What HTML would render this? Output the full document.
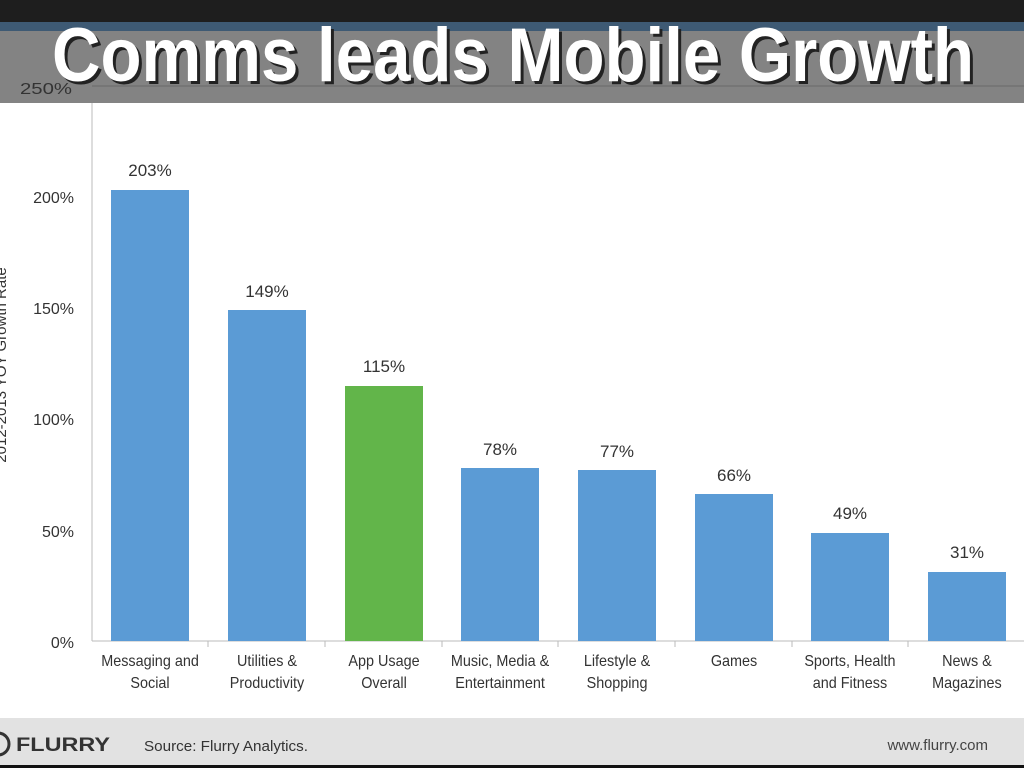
<!DOCTYPE html>
<html><head><meta charset="utf-8"><style>
html,body{margin:0;padding:0;background:#fff;}
svg{display:block;}
</style></head><body>
<svg width="1024" height="768" viewBox="0 0 1024 768" xmlns="http://www.w3.org/2000/svg" font-family="Liberation Sans, sans-serif">
<rect x="0" y="0" width="1024" height="768" fill="#fff"/>
<rect x="0" y="0" width="1024" height="24" fill="#1e1e1e"/>
<rect x="0" y="22" width="1024" height="10" fill="#3e5a74"/>
<rect x="0" y="31" width="1024" height="72" fill="#838383"/>
<line x1="92" y1="86" x2="1024" y2="86" stroke="#6a6a6a" stroke-width="1"/>
<text x="20" y="94" font-size="16" fill="#333" textLength="52" lengthAdjust="spacingAndGlyphs">250%</text>
<text x="52" y="81" font-size="76" font-weight="bold" fill="#222" textLength="922" lengthAdjust="spacingAndGlyphs" transform="translate(3,3)">Comms leads Mobile Growth</text>
<text x="52" y="81" font-size="76" font-weight="bold" fill="#fff" textLength="922" lengthAdjust="spacingAndGlyphs">Comms leads Mobile Growth</text>
<line x1="92" y1="103" x2="92" y2="641" stroke="#bbb"/>
<line x1="92" y1="641" x2="1024" y2="641" stroke="#bbb"/>
<g stroke="#bbb">
<line x1="208" y1="641" x2="208" y2="647"/><line x1="325" y1="641" x2="325" y2="647"/><line x1="442" y1="641" x2="442" y2="647"/><line x1="558" y1="641" x2="558" y2="647"/><line x1="675" y1="641" x2="675" y2="647"/><line x1="792" y1="641" x2="792" y2="647"/><line x1="908" y1="641" x2="908" y2="647"/>
</g>
<g font-size="16" fill="#333" text-anchor="end">
<text x="74" y="203">200%</text><text x="74" y="314">150%</text><text x="74" y="425">100%</text><text x="74" y="537">50%</text><text x="74" y="648">0%</text>
</g>
<text transform="translate(6,365) rotate(-90)" font-size="15" fill="#333" text-anchor="middle">2012-2013 YOY Growth Rate</text>
<g fill="#5b9bd5">
<rect x="111" y="190" width="78" height="451"/>
<rect x="228" y="310" width="78" height="331"/>
<rect x="461" y="468" width="78" height="173"/>
<rect x="578" y="470" width="78" height="171"/>
<rect x="695" y="494" width="78" height="147"/>
<rect x="811" y="533" width="78" height="108"/>
<rect x="928" y="572" width="78" height="69"/>
</g>
<rect x="345" y="386" width="78" height="255" fill="#62b54a"/>
<g font-size="17" fill="#333" text-anchor="middle">
<text x="150" y="176">203%</text><text x="267" y="297">149%</text><text x="384" y="372">115%</text><text x="500" y="455">78%</text><text x="617" y="457">77%</text><text x="734" y="481">66%</text><text x="850" y="519">49%</text><text x="967" y="558">31%</text>
</g>
<g font-size="16" fill="#333" text-anchor="middle" transform="scale(0.9,1)">
<text x="166.7" y="666">Messaging and</text><text x="166.7" y="688">Social</text>
<text x="296.7" y="666">Utilities &amp;</text><text x="296.7" y="688">Productivity</text>
<text x="426.7" y="666">App Usage</text><text x="426.7" y="688">Overall</text>
<text x="555.6" y="666">Music, Media &amp;</text><text x="555.6" y="688">Entertainment</text>
<text x="685.6" y="666">Lifestyle &amp;</text><text x="685.6" y="688">Shopping</text>
<text x="815.6" y="666">Games</text>
<text x="944.4" y="666">Sports, Health</text><text x="944.4" y="688">and Fitness</text>
<text x="1074.4" y="666">News &amp;</text><text x="1074.4" y="688">Magazines</text>
</g>
<rect x="0" y="718" width="1024" height="47" fill="#e2e2e2"/>
<rect x="0" y="765" width="1024" height="3" fill="#111"/>
<circle cx="-2" cy="744" r="11" fill="none" stroke="#333" stroke-width="3"/>
<text x="16" y="751" font-size="19" font-weight="bold" fill="#333" textLength="94" lengthAdjust="spacingAndGlyphs">FLURRY</text>
<text x="144" y="751" font-size="15" fill="#333" textLength="164" lengthAdjust="spacingAndGlyphs">Source: Flurry Analytics.</text>
<text x="988" y="750" font-size="15" fill="#444" text-anchor="end">www.flurry.com</text>
</svg>
</body></html>
